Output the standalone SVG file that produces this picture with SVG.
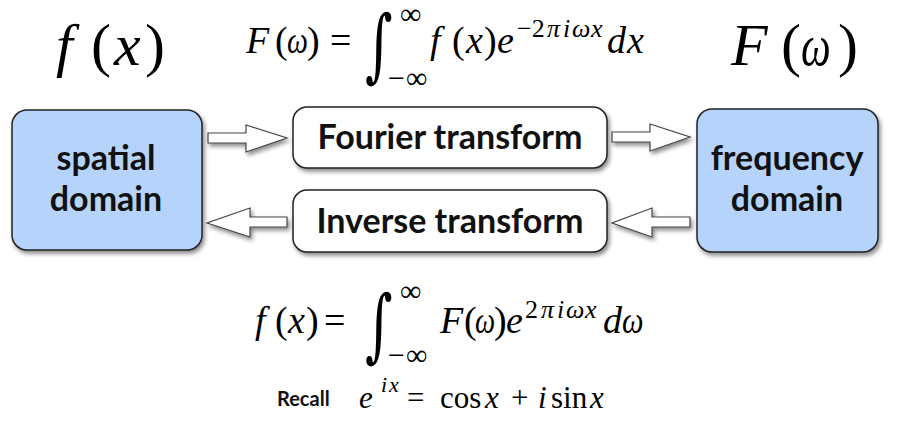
<svg xmlns="http://www.w3.org/2000/svg" width="901" height="422" viewBox="0 0 901 422">
<defs>
<filter id="sh" x="-10%" y="-10%" width="130%" height="140%">
<feDropShadow dx="2" dy="3" stdDeviation="2" flood-color="#000" flood-opacity="0.45"/>
</filter>
<style>
.dom{fill:#b6d3fb;stroke:#222;stroke-width:1.5;filter:url(#sh)}
.tr{fill:#fff;stroke:#222;stroke-width:1.5;filter:url(#sh)}
.lbl{font-family:Lato,"Open Sans",sans-serif;font-weight:bold;font-size:34px;fill:#111;text-anchor:middle}
.arr{fill:#fff;stroke:#444;stroke-width:1.2;filter:url(#sh)}
.m{font-family:"Liberation Serif","DejaVu Serif",serif;fill:#000}
.i{font-style:italic}
.int{font-family:"DejaVu Serif",serif;fill:#000}
</style>
</defs>
<g id="spatial">
<rect class="dom" x="12" y="110" width="190" height="140" rx="15"/>
<text class="lbl" x="106" y="170">spatial</text>
<text class="lbl" x="106" y="211">domain</text>
</g>
<g id="fourier">
<rect class="tr" x="293" y="107" width="314" height="61" rx="14"/>
<text class="lbl" x="450" y="149">Fourier transform</text>
</g>
<g id="inverse">
<rect class="tr" x="293" y="190" width="314" height="62" rx="14"/>
<text class="lbl" x="450" y="233">Inverse transform</text>
</g>
<g id="frequency">
<rect class="dom" x="697" y="109" width="181" height="143" rx="15"/>
<text class="lbl" x="787" y="170">frequency</text>
<text class="lbl" x="787" y="211">domain</text>
</g>
<g id="connectors">
<polygon class="arr" points="208,133 246,133 246,125 287,138 246,152 246,143 208,143"/>
<polygon class="arr" points="287,217 250,217 250,208 207,223 250,237 250,227 287,227"/>
<polygon class="arr" points="612,132 650,132 650,124 690,137 650,151 650,142 612,142"/>
<polygon class="arr" points="690,217 652,217 652,208 612,223 652,237 652,227 690,227"/>
</g>
<g id="fx-label">
<text class="m" y="65" font-size="60"><tspan class="i" x="56">f</tspan><tspan x="91">(</tspan><tspan class="i" x="114">x</tspan><tspan x="145">)</tspan></text>
</g>
<g id="Fw-label">
<text class="m" y="65" font-size="60"><tspan class="i" x="731">F</tspan><tspan x="781">(</tspan><tspan x="838">)</tspan></text>
<text class="m i" font-size="60" transform="translate(801 65) scale(0.7 1)">ω</text>
</g>
<g id="forward-formula">
<text class="m" y="53" font-size="38"><tspan class="i" x="246">F</tspan><tspan x="275">(</tspan><tspan x="307">)</tspan><tspan x="330">=</tspan><tspan class="i" x="430">f</tspan><tspan x="452">(</tspan><tspan class="i" x="466">x</tspan><tspan x="484">)</tspan><tspan class="i" x="497">e</tspan><tspan class="i" x="607">d</tspan><tspan class="i" x="627">x</tspan></text>
<text class="m i" font-size="38" transform="translate(287 53) scale(0.78 1)">ω</text>
<text class="int" x="365" y="72" font-size="80" transform="translate(365 0) scale(0.66 1) translate(-365 0)">∫</text>
<text class="m" x="400" y="24" font-size="30">∞</text>
<text class="m" y="88" font-size="30"><tspan x="388">−</tspan><tspan x="406">∞</tspan></text>
<text class="m" y="37" font-size="26"><tspan x="517">−2</tspan><tspan class="i" x="547">π</tspan><tspan class="i" x="563">i</tspan><tspan class="i" x="572">ω</tspan><tspan class="i" x="591">x</tspan></text>
</g>
<g id="inverse-formula">
<text class="m" y="333" font-size="38"><tspan class="i" x="255">f</tspan><tspan x="275">(</tspan><tspan class="i" x="288">x</tspan><tspan x="306">)</tspan><tspan x="324">=</tspan><tspan class="i" x="440">F</tspan><tspan x="464">(</tspan><tspan x="494">)</tspan><tspan class="i" x="506">e</tspan><tspan class="i" x="603">d</tspan></text>
<text class="m i" font-size="38" transform="translate(475 333) scale(0.75 1)">ω</text>
<text class="m i" font-size="38" transform="translate(622 333) scale(0.8 1)">ω</text>
<text class="int" x="365" y="352" font-size="80" transform="translate(365 0) scale(0.66 1) translate(-365 0)">∫</text>
<text class="m" x="400" y="301" font-size="30">∞</text>
<text class="m" y="365" font-size="30"><tspan x="388">−</tspan><tspan x="406">∞</tspan></text>
<text class="m" y="318" font-size="26"><tspan x="525">2</tspan><tspan class="i" x="541">π</tspan><tspan class="i" x="557">i</tspan><tspan class="i" x="566">ω</tspan><tspan class="i" x="585">x</tspan></text>
</g>
<g id="recall">
<text x="277" y="406" font-family="Lato,sans-serif" font-weight="bold" font-size="20" fill="#111">Recall</text>
<text class="m" y="408" font-size="31"><tspan class="i" x="359">e</tspan><tspan x="407">=</tspan><tspan x="440">cos</tspan><tspan class="i" x="485">x</tspan><tspan x="511">+</tspan><tspan class="i" x="538">i</tspan><tspan x="551">sin</tspan><tspan class="i" x="590">x</tspan></text>
<text class="m i" y="392" font-size="22"><tspan x="381">i</tspan><tspan x="389">x</tspan></text>
</g>
</svg>
